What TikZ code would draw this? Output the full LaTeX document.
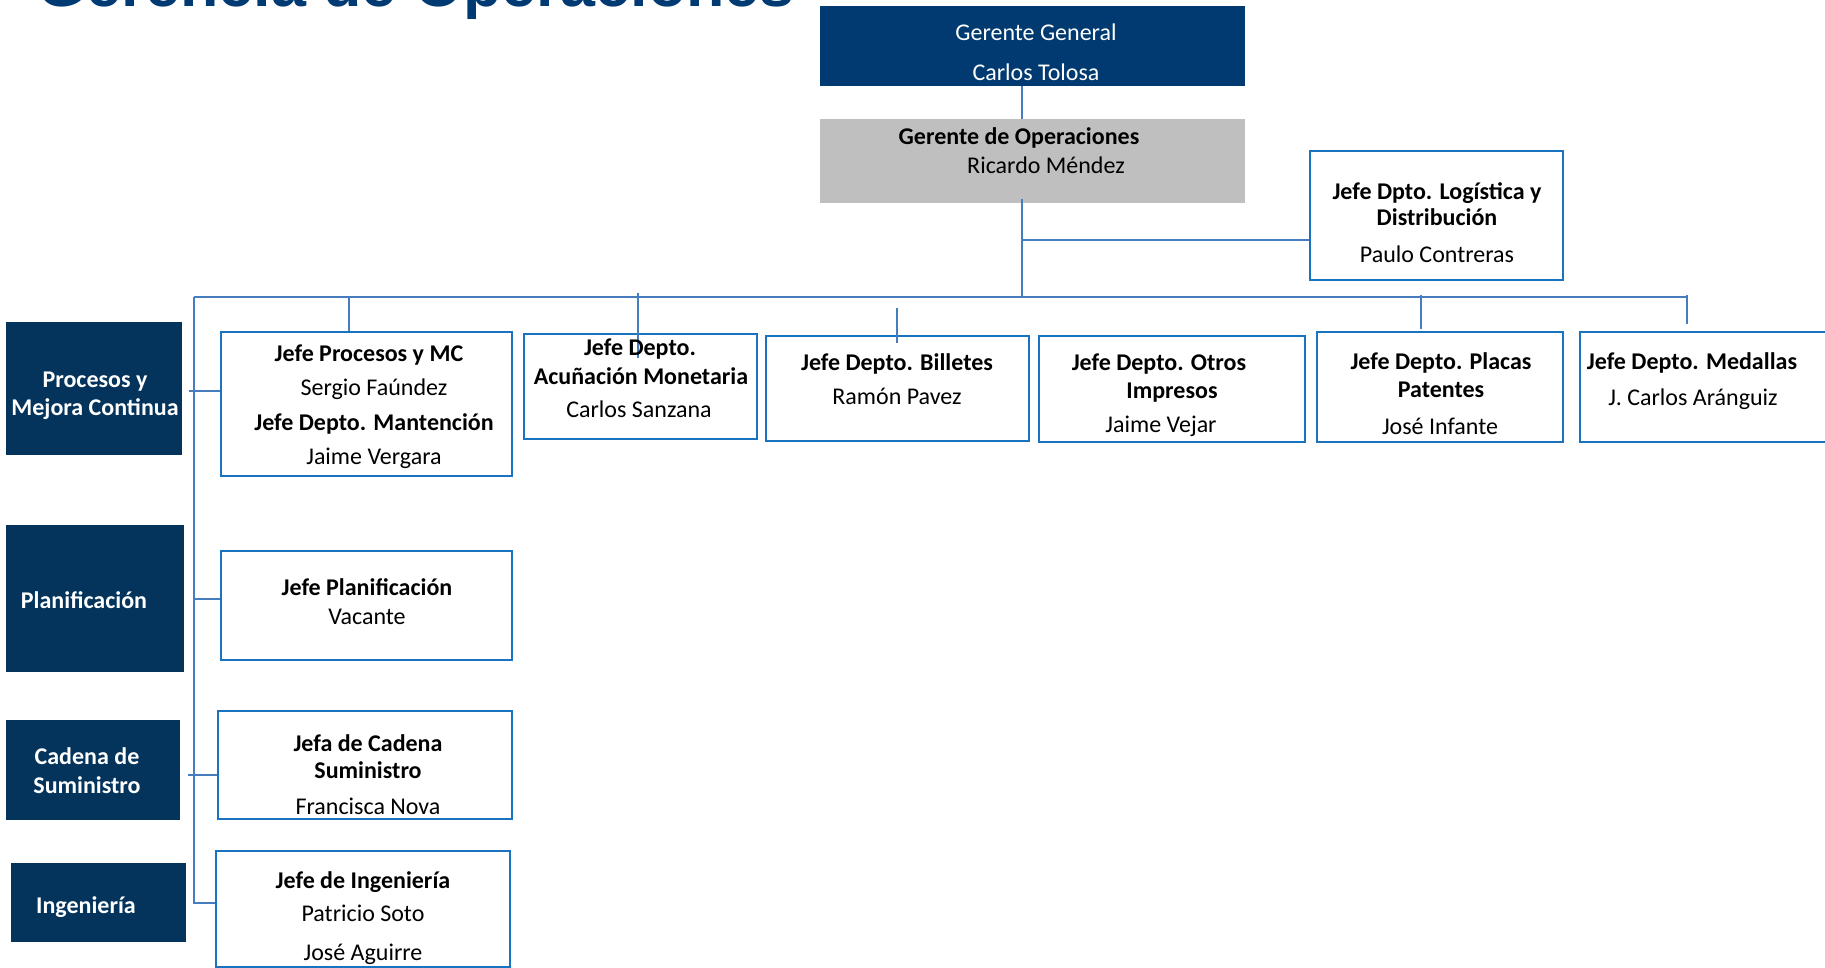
\documentclass[tikz,border=0pt]{standalone}
\usepackage{fontspec}
\setmainfont{Carlito}
\newfontfamily\titlefont{Liberation Sans}
\usetikzlibrary{fit}
\definecolor{navyA}{RGB}{0,58,112}
\definecolor{navyB}{RGB}{4,52,92}
\definecolor{titleblue}{RGB}{0,58,114}
\definecolor{greyfill}{RGB}{191,191,191}
\definecolor{borderblue}{RGB}{26,115,192}
\definecolor{connblue}{RGB}{70,125,190}
\tikzset{
  bluebox/.style={draw=borderblue, line width=1.1pt, fill=white, inner sep=0pt},
  greybox/.style={fill=greyfill, inner sep=0pt},
  navybox/.style={fill=navyA, inner sep=0pt},
  leftbox/.style={fill=navyB, inner sep=0pt},
  conn/.style={draw=connblue, line width=1pt},
  txt/.style={inner sep=0pt, text height=7.7pt, text depth=0pt, anchor=center, font=\fontsize{12}{14}\selectfont},
  btxt/.style={txt, font=\fontsize{12}{14}\selectfont\bfseries},
  wtxt/.style={txt, text=white},
  wbtxt/.style={btxt, text=white},
}
\begin{document}
\begin{tikzpicture}[x=0.5pt, y=-0.5pt]
\useasboundingbox (0,0) rectangle (1825,968);
\clip (0,0) rectangle (1825,968);
\fill[white] (0,0) rectangle (1825,968);

% title
\node[anchor=base west, inner sep=0pt, font=\titlefont\bfseries\fontsize{31.4}{38}\selectfont, text=titleblue] (title) at (37,7) {Gerencia de Operaciones};

% top boxes
\node[navybox, fit={(820,6) (1245,86)}] (gg) {};
\node[greybox, fit={(820,119) (1245,203)}] (go) {};
\node[bluebox, fit={(1310,151) (1563,280)}] (log) {};

% row boxes
\node[bluebox, fit={(221,332) (512,476)}] (jpmc) {};
\node[bluebox, fit={(524,334) (757,439)}] (jacu) {};
\node[bluebox, fit={(766,336) (1029,441)}] (jbil) {};
\node[bluebox, fit={(1039,336) (1305,442)}] (jotr) {};
\node[bluebox, fit={(1317,332) (1563,442)}] (jpla) {};
\node[bluebox, fit={(1580,332) (1840,442)}] (jmed) {};

% left column boxes
\node[leftbox, fit={(6,322) (182,455)}] (lpmc) {};
\node[leftbox, fit={(6,525) (184,672)}] (lpla) {};
\node[leftbox, fit={(6,720) (180,820)}] (lcad) {};
\node[leftbox, fit={(11,863) (186,942)}] (ling) {};

\node[bluebox, fit={(221,551) (512,660)}] (jplan) {};
\node[bluebox, fit={(218,711) (512,819)}] (jcad) {};
\node[bluebox, fit={(216,851) (510,967)}] (jing) {};

% connector coordinates
\coordinate (trunk) at (1022,297);
\coordinate (busL) at (194,297);
\coordinate (busR) at (1687,297);
\coordinate (logy) at (1022,240);
\coordinate (tP) at (349,297);
\coordinate (tA1) at (638,293);
\coordinate (tA2) at (638,358);
\coordinate (tB1) at (897,308);
\coordinate (tB2) at (897,343);
\coordinate (tL1) at (1421,295);
\coordinate (tL2) at (1421,329);
\coordinate (tM1) at (1687,295);
\coordinate (tM2) at (1687,324);
\coordinate (sP) at (189,391);
\coordinate (sL) at (193,599);
\coordinate (sC) at (188,775);
\coordinate (sI) at (194,903);

% connectors
\draw[conn] (trunk |- gg.south) -- (trunk |- go.north);
\draw[conn] (1022,199) -- (trunk);
\draw[conn] (logy) -- (logy -| log.west);
\draw[conn] (busL) -- (busR);
\draw[conn] (tP) -- (tP |- jpmc.north);
\draw[conn] (tA1) -- (tA2);
\draw[conn] (tB1) -- (tB2);
\draw[conn] (tL1) -- (tL2);
\draw[conn] (tM1) -- (tM2);
\draw[conn] (busL) -- (sI) -- (sI -| jing.west);
\draw[conn] (sP) -- (sP -| jpmc.west);
\draw[conn] (sL) -- (sL -| jplan.west);
\draw[conn] (sC) -- (sC -| jcad.west);

% texts
\node[wtxt] (t1) at (1036,33) {Gerente General};
\node[wtxt] (t2) at (1036,73) {Carlos Tolosa};
\node[btxt] (t3) at (1019,137) {Gerente de Operaciones};
\node[txt] (t4) at (1046,166) {Ricardo Méndez};
\node[btxt] (t5) at (1437,192) {Jefe Dpto. Logística y};
\node[btxt] (t6) at (1437,218) {Distribución};
\node[txt] (t7) at (1437,255) {Paulo Contreras};

\node[btxt] (t8) at (369,354) {Jefe Procesos y MC};
\node[txt] (t9) at (374,388) {Sergio Faúndez};
\node[btxt] (t10) at (374,423) {Jefe Depto. Mantención};
\node[txt] (t11) at (374,457) {Jaime Vergara};

\node[btxt] (t12) at (640,348) {Jefe Depto.};
\node[btxt] (t13) at (641,377) {Acuñación Monetaria};
\node[txt] (t14) at (639,410) {Carlos Sanzana};

\node[btxt] (t15) at (897,363) {Jefe Depto. Billetes};
\node[txt] (t16) at (897,397) {Ramón Pavez};

\node[btxt] (t17) at (1159,363) {Jefe Depto. Otros};
\node[btxt] (t18) at (1172,391) {Impresos};
\node[txt] (t19) at (1161,425) {Jaime Vejar};

\node[btxt] (t20) at (1441,362) {Jefe Depto. Placas};
\node[btxt] (t21) at (1441,390) {Patentes};
\node[txt] (t22) at (1440,427) {José Infante};

\node[btxt] (t23) at (1692,362) {Jefe Depto. Medallas};
\node[txt] (t24) at (1693,398) {J. Carlos Aránguiz};

\node[wbtxt] (t25) at (95,380) {Procesos y};
\node[wbtxt] (t26) at (95,408) {Mejora Continua};
\node[wbtxt] (t27) at (84,601) {Planificación};
\node[wbtxt] (t28) at (87,757) {Cadena de};
\node[wbtxt] (t29) at (87,786) {Suministro};
\node[wbtxt] (t30) at (86,906) {Ingeniería};

\node[btxt] (t31) at (367,588) {Jefe Planificación};
\node[txt] (t32) at (367,617) {Vacante};
\node[btxt] (t33) at (368,744) {Jefa de Cadena};
\node[btxt] (t34) at (368,771) {Suministro};
\node[txt] (t35) at (368,807) {Francisca Nova};
\node[btxt] (t36) at (363,881) {Jefe de Ingeniería};
\node[txt] (t37) at (363,914) {Patricio Soto};
\node[txt] (t38) at (363,953) {José Aguirre};
\end{tikzpicture}
\end{document}
